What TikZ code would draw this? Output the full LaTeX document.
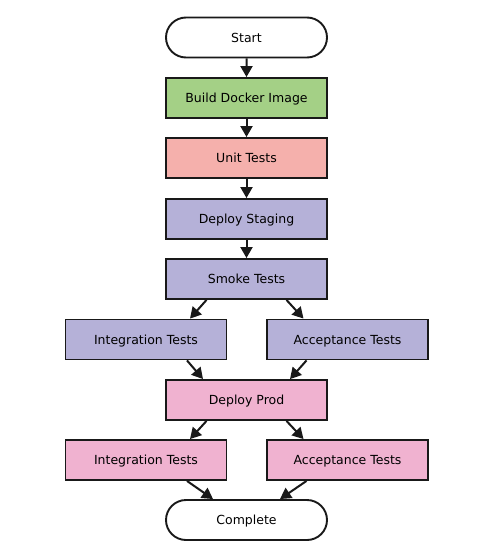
\documentclass[tikz,border=0pt]{standalone}
\usepackage{fontspec}
\setmainfont{DejaVu Sans}
\usetikzlibrary{arrows.meta,shapes.misc,calc}
\definecolor{cgreen}{RGB}{164,208,134}
\definecolor{csalmon}{RGB}{245,176,172}
\definecolor{clav}{RGB}{181,177,216}
\definecolor{cpink}{RGB}{240,178,208}
\tikzset{
  box/.style={draw=black!90, line width=1.9pt, minimum width=161pt, minimum height=40pt, inner sep=0pt, text height=9.1pt, text depth=0pt, font=\fontsize{12.5}{14}\selectfont},
  term/.style={box, fill=white, rounded rectangle},
  conn/.style={line width=2pt, black!90, -{Triangle[length=11pt,width=12pt]}}
}
\begin{document}
\begin{tikzpicture}[x=1pt,y=-1pt]
\useasboundingbox (0,0) rectangle (489,559);
\node[term] (start) at (246.5,37.5) {Start};
\node[box, fill=cgreen] (build) at (246.5,98) {Build Docker Image};
\node[box, fill=csalmon] (unit) at (246.5,158) {Unit Tests};
\node[box, fill=clav] (stag) at (246.5,219) {Deploy Staging};
\node[box, fill=clav] (smoke) at (246.5,279) {Smoke Tests};
\node[box, fill=clav] (integ) at (146,339.5) {Integration Tests};
\node[box, fill=clav] (accept) at (347.5,339.5) {Acceptance Tests};
\node[box, fill=cpink] (prod) at (246.5,400) {Deploy Prod};
\node[box, fill=cpink] (integb) at (146,460) {Integration Tests};
\node[box, fill=cpink] (acceptb) at (347.5,460) {Acceptance Tests};
\node[term] (done) at (246.5,520) {Complete};
\draw[conn] (start) -- (build);
\draw[conn] (build) -- (unit);
\draw[conn] (unit) -- (stag);
\draw[conn] (stag) -- (smoke);
\draw[conn] ($(smoke.south)+(-40,0)$) -- ($(integ.north)+(44,0)$);
\draw[conn] ($(smoke.south)+(40,0)$) -- ($(accept.north)+(-44,0)$);
\draw[conn] ($(integ.south)+(41,0)$) -- ($(prod.north)+(-43.5,0)$);
\draw[conn] ($(accept.south)+(-41,0)$) -- ($(prod.north)+(43.5,0)$);
\draw[conn] ($(prod.south)+(-40,0)$) -- ($(integb.north)+(44,0)$);
\draw[conn] ($(prod.south)+(40,0)$) -- ($(acceptb.north)+(-44,0)$);
\draw[conn] ($(integb.south)+(41,0)$) -- ($(done.north)+(-33.5,0)$);
\draw[conn] ($(acceptb.south)+(-41,0)$) -- ($(done.north)+(33.5,0)$);
\end{tikzpicture}
\end{document}
